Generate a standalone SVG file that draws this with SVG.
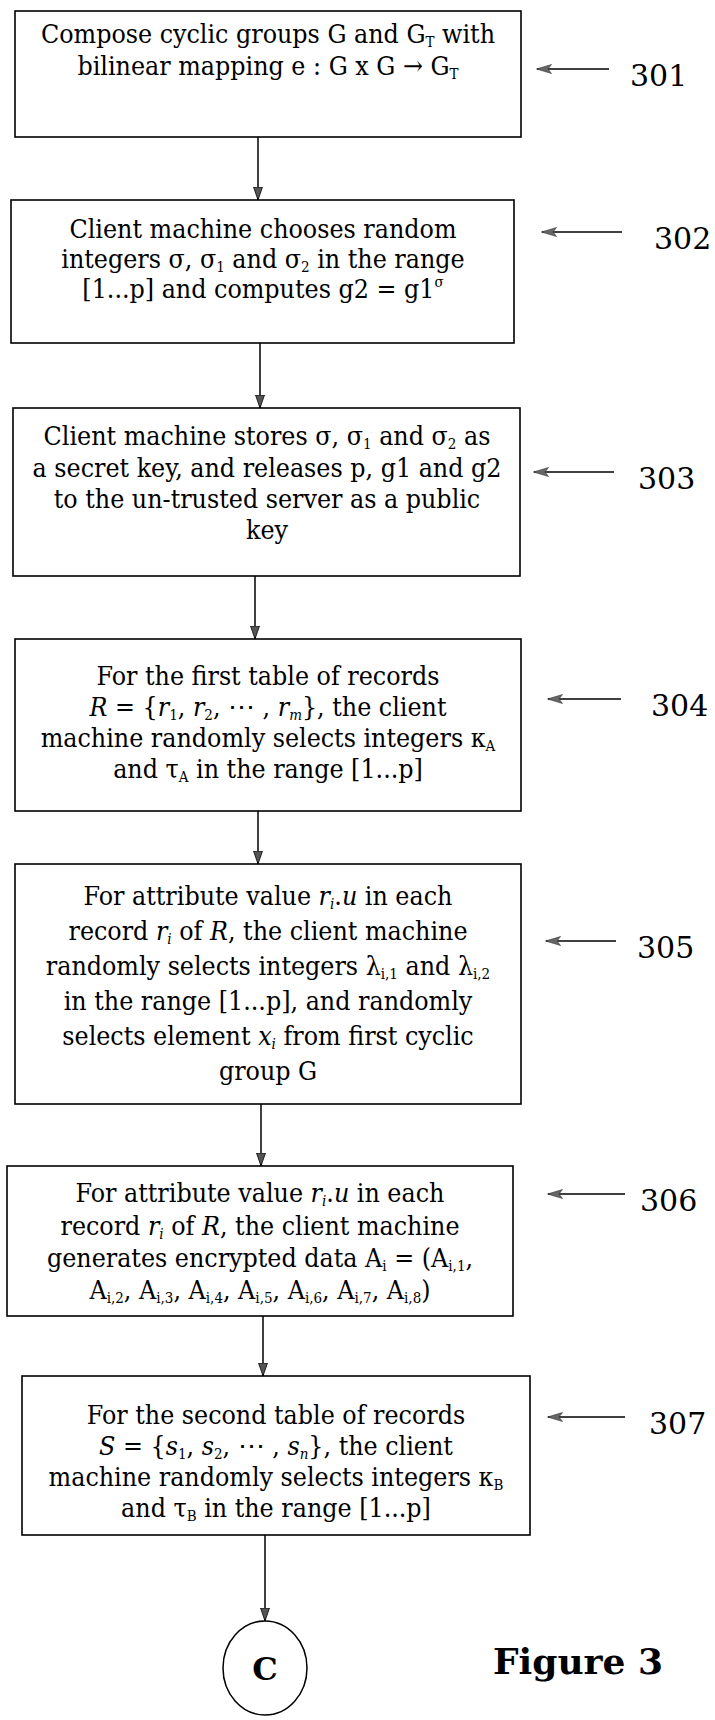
<svg xmlns="http://www.w3.org/2000/svg" width="715" height="1720" viewBox="0 0 715 1720">
  <style>
    .box { fill: #fff; stroke: #000; stroke-width: 1.6; }
    .t { font-family: "DejaVu Serif Condensed", "DejaVu Serif", "Liberation Serif", serif; font-stretch: condensed; font-size: 26.5px; fill: #000; text-anchor: middle; }
    .m { font-style: italic; }
    .sb { font-size: 15px; baseline-shift: -4px; }
    .sp { font-size: 15px; baseline-shift: 11px; }
    .num { font-family: "DejaVu Serif", "Liberation Serif", serif; font-size: 30px; fill: #000; }
    .flow { stroke: #000; stroke-width: 1.5; fill: none; marker-end: url(#head); }
    .ref { stroke: #000; stroke-width: 1.5; fill: none; marker-end: url(#refhead); }
    .fig { font-family: "DejaVu Serif", "Liberation Serif", serif; font-size: 36px; font-weight: bold; fill: #000; }
    .conn { font-family: "DejaVu Serif", "Liberation Serif", serif; font-size: 32px; font-weight: bold; fill: #000; text-anchor: middle; }
  </style>
  <defs>
    <!-- downward flow arrowhead: narrow filled dart -->
    <marker id="head" markerWidth="14" markerHeight="10" refX="13.5" refY="5" orient="auto" markerUnits="userSpaceOnUse" viewBox="0 0 14 10">
      <path d="M0.5,0.5 L13.5,5 L0.5,9.5 Z" fill="#555" stroke="#000" stroke-width="0.8"/>
    </marker>
    <!-- pointer arrowhead next to the reference numerals -->
    <marker id="refhead" markerWidth="16" markerHeight="10" refX="15" refY="5" orient="auto" markerUnits="userSpaceOnUse" viewBox="0 0 16 10">
      <path d="M0.5,0.5 L15.5,5 L0.5,9.5 L4,5 Z" fill="#666" stroke="#333" stroke-width="0.6"/>
    </marker>
  </defs>

  <!-- flow connectors between steps -->
  <g id="connectors">
    <line class="flow" x1="258" y1="137" x2="258" y2="200"/>
    <line class="flow" x1="260" y1="343" x2="260" y2="408"/>
    <line class="flow" x1="255" y1="576" x2="255" y2="639"/>
    <line class="flow" x1="258" y1="811" x2="258" y2="864"/>
    <line class="flow" x1="261" y1="1104" x2="261" y2="1166"/>
    <line class="flow" x1="263" y1="1316" x2="263" y2="1376"/>
    <line class="flow" x1="265" y1="1535" x2="265" y2="1621"/>
  </g>

  <!-- reference numeral pointers -->
  <g id="ref-arrows">
    <line class="ref" x1="609" y1="69" x2="537" y2="69"/>
    <line class="ref" x1="622" y1="232" x2="542" y2="232"/>
    <line class="ref" x1="614" y1="472" x2="534" y2="472"/>
    <line class="ref" x1="621" y1="699" x2="548" y2="699"/>
    <line class="ref" x1="616" y1="941" x2="546" y2="941"/>
    <line class="ref" x1="625" y1="1194" x2="548" y2="1194"/>
    <line class="ref" x1="625" y1="1417" x2="548" y2="1417"/>
  </g>

  <g id="s301">
    <rect class="box" x="15" y="11" width="506" height="126"/>
    <text class="t" x="268" y="43">Compose cyclic groups G and G<tspan class="sb">T</tspan> with</text>
    <text class="t" x="268" y="75">bilinear mapping e : G x G → G<tspan class="sb">T</tspan></text>
    <text class="num" x="630" y="86">301</text>
  </g>

  <g id="s302">
    <rect class="box" x="11" y="200" width="503" height="143"/>
    <text class="t" x="263" y="238">Client machine chooses random</text>
    <text class="t" x="263" y="268">integers σ, σ<tspan class="sb">1</tspan> and σ<tspan class="sb">2</tspan> in the range</text>
    <text class="t" x="263" y="298">[1...p] and computes g2 = g1<tspan class="sp">σ</tspan></text>
    <text class="num" x="654" y="249">302</text>
  </g>

  <g id="s303">
    <rect class="box" x="13" y="408" width="507" height="168"/>
    <text class="t" x="267" y="445">Client machine stores σ, σ<tspan class="sb">1</tspan> and σ<tspan class="sb">2</tspan>  as</text>
    <text class="t" x="267" y="477">a secret key, and releases p, g1 and g2</text>
    <text class="t" x="267" y="508">to the un-trusted server as a public</text>
    <text class="t" x="267" y="539">key</text>
    <text class="num" x="638" y="489">303</text>
  </g>

  <g id="s304">
    <rect class="box" x="15" y="639" width="506" height="172"/>
    <text class="t" x="268" y="685">For the first table of records</text>
    <text class="t" x="268" y="716"><tspan class="m">R</tspan> = {<tspan class="m">r</tspan><tspan class="sb">1</tspan>, <tspan class="m">r</tspan><tspan class="sb">2</tspan>, ⋯ , <tspan class="m">r</tspan><tspan class="sb m">m</tspan>}, the client</text>
    <text class="t" x="268" y="747">machine randomly selects integers κ<tspan class="sb">A</tspan></text>
    <text class="t" x="268" y="778">and τ<tspan class="sb">A</tspan> in the range [1...p]</text>
    <text class="num" x="651" y="716">304</text>
  </g>

  <g id="s305">
    <rect class="box" x="15" y="864" width="506" height="240"/>
    <text class="t" x="268" y="905">For attribute value <tspan class="m">r</tspan><tspan class="sb m">i</tspan>.<tspan class="m">u</tspan> in each</text>
    <text class="t" x="268" y="940">record <tspan class="m">r</tspan><tspan class="sb m">i</tspan> of <tspan class="m">R</tspan>, the client machine</text>
    <text class="t" x="268" y="975">randomly selects integers λ<tspan class="sb">i,1</tspan> and λ<tspan class="sb">i,2</tspan></text>
    <text class="t" x="268" y="1010">in the range [1...p], and randomly</text>
    <text class="t" x="268" y="1045">selects element <tspan class="m">x</tspan><tspan class="sb m">i</tspan> from first cyclic</text>
    <text class="t" x="268" y="1080">group G</text>
    <text class="num" x="637" y="958">305</text>
  </g>

  <g id="s306">
    <rect class="box" x="7" y="1166" width="506" height="150"/>
    <text class="t" x="260" y="1202">For attribute value <tspan class="m">r</tspan><tspan class="sb m">i</tspan>.<tspan class="m">u</tspan> in each</text>
    <text class="t" x="260" y="1235">record <tspan class="m">r</tspan><tspan class="sb m">i</tspan> of <tspan class="m">R</tspan>, the client machine</text>
    <text class="t" x="260" y="1267">generates encrypted data  A<tspan class="sb">i</tspan> = (A<tspan class="sb">i,1</tspan>,</text>
    <text class="t" x="260" y="1299">A<tspan class="sb">i,2</tspan>, A<tspan class="sb">i,3</tspan>, A<tspan class="sb">i,4</tspan>, A<tspan class="sb">i,5</tspan>, A<tspan class="sb">i,6</tspan>, A<tspan class="sb">i,7</tspan>, A<tspan class="sb">i,8</tspan>)</text>
    <text class="num" x="640" y="1211">306</text>
  </g>

  <g id="s307">
    <rect class="box" x="22" y="1376" width="508" height="159"/>
    <text class="t" x="276" y="1424">For the second table of records</text>
    <text class="t" x="276" y="1455"><tspan class="m">S</tspan> = {<tspan class="m">s</tspan><tspan class="sb">1</tspan>, <tspan class="m">s</tspan><tspan class="sb">2</tspan>, ⋯ , <tspan class="m">s</tspan><tspan class="sb m">n</tspan>}, the client</text>
    <text class="t" x="276" y="1486">machine randomly selects integers κ<tspan class="sb">B</tspan></text>
    <text class="t" x="276" y="1517">and τ<tspan class="sb">B</tspan>  in the range [1...p]</text>
    <text class="num" x="649" y="1434">307</text>
  </g>

  <g id="connector-c">
    <ellipse cx="265" cy="1668" rx="42" ry="47" fill="#fff" stroke="#000" stroke-width="1.5"/>
    <text class="conn" x="265" y="1680">C</text>
  </g>

  <text class="fig" x="493" y="1674">Figure 3</text>
</svg>
